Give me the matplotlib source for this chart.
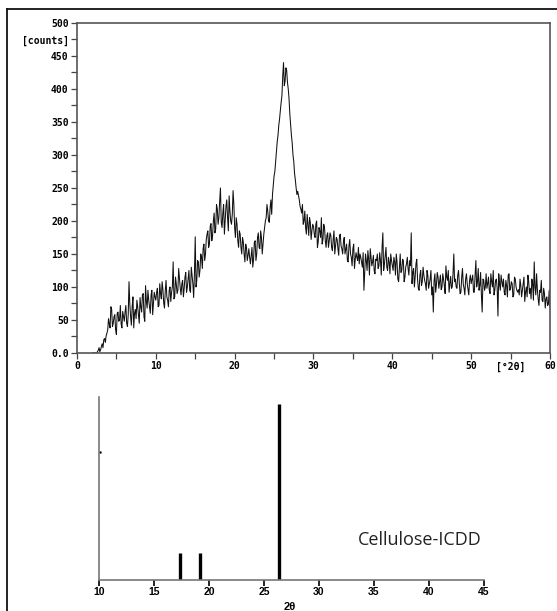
import matplotlib.pyplot as plt
import numpy as np
from matplotlib.lines import Line2D

# measured pattern, read at 2.0, 2.2, ... 60.0 deg 2-theta
theta_a = np.round(np.arange(2.0, 60.01, 0.2), 1)
counts_a = [
    0, 0, 0, 2, 8, 5, 14, 20, 16, 30,
    52, 38, 66, 45, 58, 28, 62, 50, 44, 63,
    48, 72, 40, 108, 55, 70, 38, 66, 80, 58,
    84, 62, 90, 48, 78, 95, 70, 88, 58, 92,
    80, 98, 72, 90, 108, 76, 94, 85, 70, 100,
    92, 138, 85, 104, 95, 112, 88, 110, 98, 122,
    100, 125, 92, 118, 84, 176, 110, 138, 125, 145,
    158, 140, 172, 185, 165, 196, 178, 212, 188, 218,
    205, 250, 190, 225, 200, 232, 185, 215, 195, 246,
    190, 205, 170, 185, 160, 175, 150, 165, 140, 158,
    135, 160, 142, 170, 150, 182, 158, 175, 165, 190,
    205, 215, 198, 232, 240, 268, 290, 320, 345, 368,
    390, 440, 412, 428, 400, 362, 330, 300, 272, 250,
    245, 232, 218, 225, 200, 190, 210, 178, 198, 185,
    192, 175, 200, 168, 185, 205, 172, 190, 160, 182,
    170, 178, 155, 185, 162, 172, 148, 180, 158, 168,
    150, 165, 138, 172, 145, 158, 128, 152, 140, 135,
    145, 130, 95, 150, 125, 142, 158, 132, 148, 120,
    140, 128, 152, 118, 182, 135, 160, 125, 138, 150,
    132, 145, 118, 138, 108, 150, 125, 140, 115, 135,
    128, 140, 182, 122, 100, 135, 112, 95, 125, 108,
    118, 105, 125, 98, 112, 88, 62, 120, 104, 115,
    108, 96, 120, 102, 132, 110, 92, 116, 100, 150,
    112, 98, 125, 90, 115, 104, 88, 120, 96, 110,
    105, 118, 92, 140, 108, 95, 122, 62, 110, 100,
    98, 115, 90, 108, 125, 95, 112, 56, 104, 118,
    100, 92, 110, 85, 120, 98, 105, 88, 112, 95,
    96, 112, 85, 104, 78, 100, 118, 90, 82, 105,
    138, 88, 96, 72, 92, 80, 98, 68, 85, 74,
    70,
]
# readings in between, at 2.1, 2.3, ... 59.9
theta_b = np.round(np.arange(2.1, 59.91, 0.2), 1)
counts_b = [
    0, 0, 0, 4, 2, 10, 8, 22, 26, 35,
    44, 70, 40, 55, 35, 60, 48, 72, 38, 55,
    62, 45, 58, 75, 42, 85, 60, 52, 70, 45,
    70, 88, 55, 102, 68, 80, 60, 95, 75, 85,
    92, 70, 105, 82, 96, 68, 110, 80, 95, 78,
    100, 82, 115, 90, 128, 98, 105, 85, 115, 92,
    112, 95, 130, 105, 120, 100, 140, 115, 150, 128,
    165, 150, 180, 160, 192, 170, 200, 182, 225, 195,
    230, 198, 212, 180, 222, 205, 238, 200, 210, 225,
    175, 195, 160, 180, 150, 168, 138, 160, 148, 145,
    148, 130, 168, 140, 175, 160, 185, 150, 180, 200,
    225, 200, 220, 210, 255, 275, 305, 330, 355, 380,
    420, 405, 432, 410, 385, 345, 318, 290, 262, 240,
    238, 222, 212, 195, 215, 180, 195, 205, 172, 195,
    180, 195, 160, 190, 175, 165, 195, 170, 178, 160,
    182, 160, 172, 150, 175, 158, 178, 162, 150, 175,
    158, 140, 162, 150, 132, 165, 142, 145, 160, 150,
    138, 152, 122, 140, 155, 118, 145, 138, 125, 142,
    150, 132, 140, 160, 125, 148, 130, 145, 120, 140,
    125, 138, 150, 112, 130, 122, 142, 108, 130, 145,
    118, 132, 105, 128, 115, 142, 98, 118, 102, 130,
    110, 95, 118, 105, 125, 100, 110, 92, 122, 98,
    118, 100, 112, 90, 115, 125, 105, 98, 120, 108,
    100, 118, 105, 92, 128, 98, 112, 105, 88, 118,
    112, 92, 118, 100, 128, 102, 88, 112, 95, 120,
    105, 95, 120, 100, 88, 110, 98, 120, 95, 108,
    112, 88, 102, 118, 95, 108, 85, 115, 100, 92,
    88, 102, 95, 115, 92, 85, 108, 98, 112, 80,
    100, 120, 82, 95, 110, 78, 90, 82, 72, 95,
]

y_ticks = list(range(0, 501, 25))
y_labels = ['0.0', '', '50', '', '100', '', '150', '', '200', '', '250', '',
            '300', '', '350', '', '400', '', '450', '[counts]', '500']
x_ticks = list(range(0, 61, 5))
x_labels = ['0', '', '10', '', '20', '', '30', '', '40', '', '50', '[°2θ]', '60']

# reference sticks (Cellulose ICDD)
ref_pos = [17.4, 19.2, 26.4]
ref_int = [15, 15, 96]
ref_ticks = [10, 15, 20, 25, 30, 35, 40, 45]

theta = np.concatenate([theta_a, theta_b])
counts = np.concatenate([counts_a, counts_b])
order = np.argsort(theta)

fig = plt.figure(figsize=(5.57, 6.11), dpi=100)

mono = {'family': 'DejaVu Sans Mono', 'weight': 'bold', 'size': 7}

ax1 = fig.add_axes([0.1382, 0.4223, 0.8492, 0.5401])
ax1.plot(theta[order], counts[order], color='#111111', lw=0.75)
ax1.set_xlim(0, 60)
ax1.set_ylim(0, 500)
ax1.set_yticks(y_ticks)
ax1.set_yticklabels(y_labels, fontdict=mono)
ax1.set_xticks(x_ticks)
ax1.set_xticklabels(x_labels, fontdict=mono)
ax1.tick_params(length=4, width=0.9, color='#444444', pad=2)
for s in ax1.spines.values():
    s.set_color('#555555')
    s.set_linewidth(1.2)

ax2 = fig.add_axes([0.1777, 0.0507, 0.6912, 0.2995])
ax2.vlines(ref_pos, 0, ref_int, color='black', lw=2.4)
ax2.plot([10.05], [70], 'k.', ms=1.5)
ax2.set_xlim(10, 45)
ax2.set_ylim(0, 100)
ax2.set_yticks([])
ax2.set_xticks(ref_ticks)
ax2.set_xticklabels([str(t) for t in ref_ticks],
                    fontdict={'family': 'Liberation Sans', 'weight': 'bold', 'size': 7.5})
ax2.tick_params(axis='x', length=4, width=1.2, color='black', pad=1)
ax2.spines['top'].set_visible(False)
ax2.spines['right'].set_visible(False)
for k in ('left', 'bottom'):
    ax2.spines[k].set_color('#777777')
    ax2.spines[k].set_linewidth(1.2)
ax2.text(39.2, 22, 'Cellulose-ICDD', ha='center', va='center',
         family='Open Sans', fontsize=13, color='#222222')

fig.text(290 / 557, 1 - 602 / 611, '2θ', ha='center', va='top',
         family='Liberation Sans', weight='bold', fontsize=8)

# outer frame (top and left edges)
fig.add_artist(Line2D([7 / 557, 1], [1 - 9 / 611, 1 - 9 / 611], color='#111111', lw=1.3))
fig.add_artist(Line2D([7 / 557, 7 / 557], [0, 1 - 9 / 611], color='#111111', lw=1.3))

plt.savefig('out.png', dpi=100)
